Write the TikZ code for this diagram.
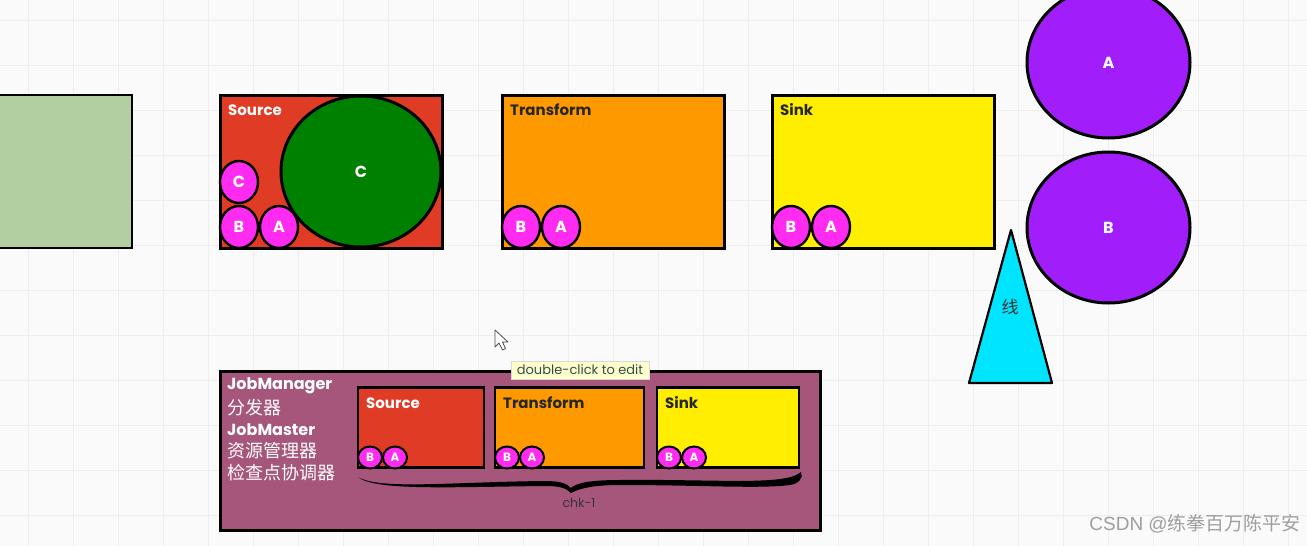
\documentclass[tikz,border=0pt]{standalone}
\usepackage{fontspec}
\setmainfont{Poppins}
\newfontfamily\cjk{Noto Sans CJK SC}
\newfontfamily\wmfont{Liberation Sans}
\usetikzlibrary{shapes.geometric}
\definecolor{gridline}{HTML}{EEEEEE}
\definecolor{paper}{HTML}{FAFAFA}
\definecolor{sagegreen}{HTML}{B2CFA2}
\definecolor{srcred}{HTML}{E03B24}
\definecolor{bigcgreen}{HTML}{008000}
\definecolor{ballpink}{HTML}{FF2BF0}
\definecolor{trforange}{HTML}{FF9900}
\definecolor{snkyellow}{HTML}{FFEE00}
\definecolor{slotpurple}{HTML}{A11EFA}
\definecolor{linecyan}{HTML}{00E5FF}
\definecolor{jmmauve}{HTML}{A6567A}
\definecolor{tipyellow}{HTML}{FFFFCC}
\definecolor{tiptext}{HTML}{2F4F4F}
\tikzset{
  box/.style={draw=black, line width=3pt, inner sep=0pt},
  ball/.style={ellipse, draw=black, line width=2.4pt, fill=ballpink, text=white,
    inner sep=0pt, minimum width=38pt, minimum height=42pt,
    font=\fontsize{16}{16}\selectfont\bfseries},
  minib/.style={ellipse, draw=black, line width=2pt, fill=ballpink, text=white,
    inner sep=0pt, minimum width=24pt, minimum height=22pt,
    font=\fontsize{12}{12}\selectfont\bfseries},
  bigball/.style={ellipse, draw=black, line width=3pt, text=white, inner sep=0pt,
    minimum height=151pt, font=\fontsize{16}{16}\selectfont\bfseries},
  boxlbl/.style={anchor=west, inner sep=0pt, font=\fontsize{15}{15}\selectfont\bfseries},
}

\begin{document}
\begin{tikzpicture}[x=1pt, y=-1pt]
  \useasboundingbox (0,0) rectangle (1307,546);
  \fill[paper] (0,0) rectangle (1307,546);
  \foreach \gx in {28,73,...,1307} \draw[gridline, line width=1pt] (\gx,0) -- (\gx,546);
  \foreach \gy in {20,65,...,546} \draw[gridline, line width=1pt] (0,\gy) -- (1307,\gy);

  % top row
  \node[box, line width=2.2pt, fill=sagegreen, minimum width=150pt, minimum height=153pt]
    (prev) at (57,171.5) {};
  \foreach \nm/\x/\col/\tc/\lbl in {src/220/srcred/white/Source,
      trf/502/trforange/black!85/Transform, snk/772/snkyellow/black!85/Sink} {
    \node[box, fill=\col, minimum width=222pt, minimum height=153pt]
      (\nm) at (\x+111,171.5) {};
    \node[boxlbl, text=\tc] (\nm-lbl) at (\x+8,110) {\lbl};
    \node[ball] (\nm-b) at (\x+19,227) {B};
    \node[ball] (\nm-a) at (\x+59,227) {A};
  }
  \node[ball] (src-c) at (239,182) {C};
  \node[bigball, fill=bigcgreen, minimum width=160pt] (bigc) at (361,171.5) {C};

  % slots on the right
  \node[bigball, fill=slotpurple, minimum width=163pt] (slot-a) at (1108.5,62.5) {A};
  \node[bigball, fill=slotpurple, minimum width=163pt] (slot-b) at (1108.5,227.5) {B};
  \filldraw[fill=linecyan, draw=black, line width=2.2pt, line join=round]
    (1011,230) -- (1052,383) -- (969,383) -- cycle;
  \node[font=\cjk\fontsize{17}{17}\selectfont, text=black!80] (xian) at (1010,307) {线};

  % JobManager
  \node[box, fill=jmmauve, minimum width=600pt, minimum height=159pt] (jm) at (520,450.5) {};
  \foreach \ty/\txt in {386/JobManager, 430/JobMaster}
    \node[anchor=west, inner sep=0pt, text=white, font=\fontsize{16}{16}\selectfont\bfseries]
      (jm-\ty) at (227,\ty) {\txt};
  \foreach \ty/\txt in {408/分发器, 451/资源管理器, 473/检查点协调器}
    \node[anchor=west, inner sep=0pt, text=white, font=\cjk\fontsize{18}{18}\selectfont]
      (jm-\ty) at (227,\ty) {\txt};
  \foreach \nm/\x/\w/\col/\tc/\lbl in {isrc/358/126/srcred/white/Source,
      itrf/495/149/trforange/black!85/Transform, isnk/657/142/snkyellow/black!85/Sink} {
    \node[box, line width=2.6pt, fill=\col, minimum width=\w pt, minimum height=80pt]
      (\nm) at (\x+\w/2,427.5) {};
    \node[boxlbl, text=\tc] (\nm-lbl) at (\x+8,403) {\lbl};
    \node[minib] (\nm-b) at (\x+12,457.5) {B};
    \node[minib] (\nm-a) at (\x+37,457.5) {A};
  }
  \fill[black]
    (358,477) .. controls (380,490) and (450,482) .. (545,481)
    .. controls (562,481) and (567,484) .. (571,488)
    .. controls (576,483) and (590,480) .. (620,480)
    .. controls (720,479) and (785,486) .. (801,472)
    .. controls (804,478) and (798,484) .. (790,485)
    .. controls (760,489) and (700,485) .. (620,485)
    .. controls (595,485) and (580,488) .. (571,493)
    .. controls (566,488) and (560,486) .. (545,486)
    .. controls (450,487) and (375,491) .. (358,477) -- cycle;
  \node[font=\fontsize{12.5}{12.5}\selectfont, text=black!80] (chk) at (579,503) {chk-1};

  % cursor and tooltip
  \filldraw[fill=white, draw=black!70, line width=0.8pt, line join=round]
    (495,330) -- (495,347) -- (499,343) -- (502.5,350) -- (505.5,348.5) -- (502.5,342) -- (508,342) -- cycle;
  \node[fill=tipyellow, draw=black!15, line width=0.6pt, inner xsep=6pt, inner ysep=4pt,
    text=tiptext, font=\fontsize{13}{13}\selectfont] (tip) at (580,370) {double-click to edit};

  % watermark
  \node[anchor=east, inner sep=0pt, text=black!38, font=\fontsize{19}{19}\selectfont]
    (wm) at (1301,524) {\wmfont CSDN @\cjk 练拳百万陈平安};
\end{tikzpicture}
\end{document}
